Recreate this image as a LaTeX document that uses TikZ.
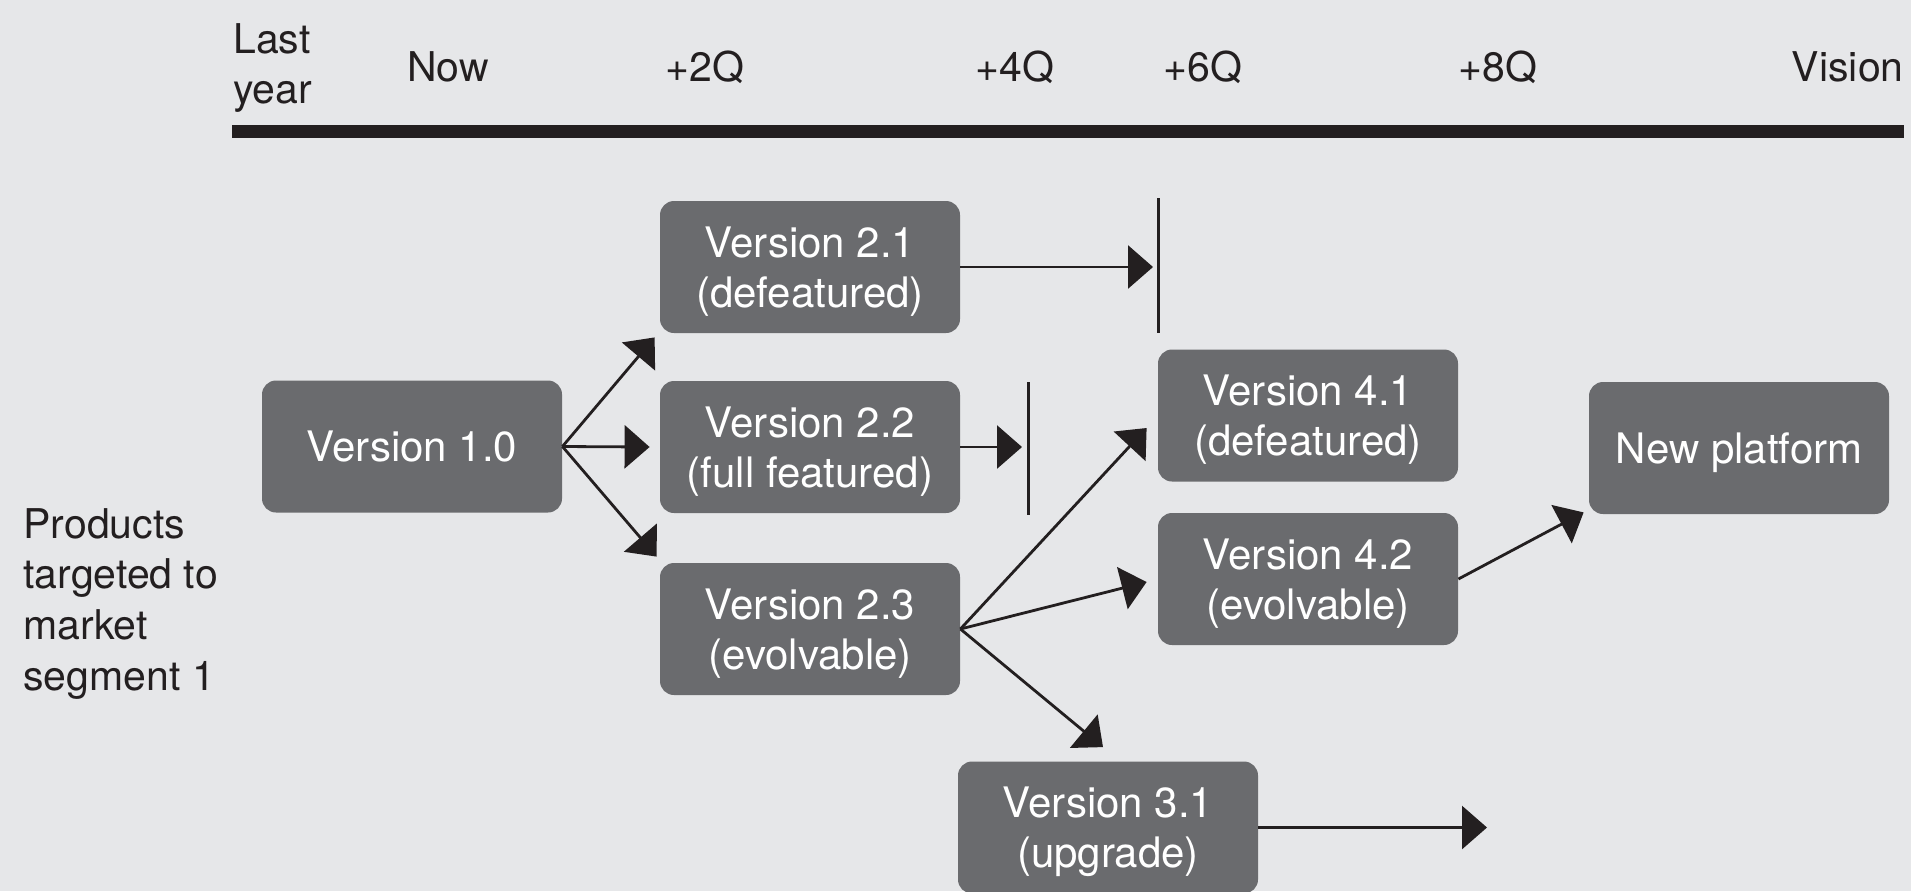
\documentclass[tikz,border=0pt]{standalone}
\usepackage{fontspec}
\setmainfont{TeX Gyre Heros}
\usetikzlibrary{arrows.meta,calc}
\definecolor{bgc}{RGB}{230,231,233}
\definecolor{boxc}{RGB}{106,107,110}
\definecolor{ink}{RGB}{35,31,32}
\begin{document}
\begin{tikzpicture}[x=0.5pt,y=-0.5pt,
  box/.style={fill=boxc, rounded corners=7pt, minimum width=150pt, minimum height=66pt,
    inner sep=0pt, text=white, align=center, font=\fontsize{21}{25}\selectfont, text depth=0pt},
  lbl/.style={text=ink, inner sep=0pt, font=\fontsize{20.5}{25}\selectfont},
  seglbl/.style={text=ink, inner sep=0pt, align=left, font=\fontsize{20.5}{25.3}\selectfont},
  arr/.style={draw=ink, line width=1.4pt, -{Triangle[length=12.5pt,width=21.5pt]}},
  stopbar/.style={draw=ink, line width=1.5pt},
  timebar/.style={draw=ink, line width=6.5pt}]
\useasboundingbox (0,0) rectangle (1911,891);
\fill[bgc] (0,0) rectangle (1911,891);

% timeline header
\node[lbl, anchor=north west, align=left] (last) at (233,23) {Last\\year};
\node[lbl, anchor=base] (now) at (448,81) {Now};
\node[lbl, anchor=base] (q2) at (705,81) {+2Q};
\node[lbl, anchor=base] (q4) at (1015,81) {+4Q};
\node[lbl, anchor=base] (q6) at (1203,81) {+6Q};
\node[lbl, anchor=base] (q8) at (1498,81) {+8Q};
\node[lbl, anchor=base east] (vision) at (1904,81) {Vision};
\coordinate (tl0) at (232,131.5);
\coordinate (tl1) at (1904,131.5);
\draw[timebar] (tl0) -- (tl1);

% side label
\node[seglbl, anchor=north west] (seg) at (23,508) {Products\\targeted to\\market\\segment 1};

% boxes
\node[box] (v10) at (412,446.5) {Version 1.0};
\node[box] (v21) at (810,267) {Version 2.1\\(defeatured)};
\node[box] (v22) at (810,447) {Version 2.2\\(full featured)};
\node[box] (v23) at (810,629) {Version 2.3\\(evolvable)};
\node[box] (v41) at (1308,415.5) {Version 4.1\\(defeatured)};
\node[box] (v42) at (1308,579) {Version 4.2\\(evolvable)};
\node[box] (np) at (1739,448) {New platform};
\node[box] (v31) at (1108,827.5) {Version 3.1\\(upgrade)};

% stop bars
\coordinate (s1a) at (1158,198);
\coordinate (s1b) at (1158,333);
\coordinate (s2a) at (1028,382);
\coordinate (s2b) at (1028,515);
\draw[stopbar] (s1a) -- (s1b);
\draw[stopbar] (s2a) -- (s2b);

% free arrow ends
\coordinate (t1) at (1153,267);
\coordinate (t2) at (1022,447);
\coordinate (t3) at (1487,827.5);

% connectors
\draw[arr] (v10.east) -- ($(v21.south west)+(-5,4)$);
\draw[arr] (v10.east) -- ($(v22.west)+(-10,0)$);
\draw[arr] (v10.east) -- ($(v23.north west)+(-3,-6)$);
\draw[arr] (v21.east) -- (t1);
\draw[arr] (v22.east) -- (t2);
\draw[arr] (v23.east) -- ($(v41.west)+(-11,12.5)$);
\draw[arr] (v23.east) -- ($(v42.west)+(-11,3)$);
\draw[arr] (v23.east) -- ($(v31.north)+(-5,-14)$);
\draw[arr] (v42.east) -- ($(np.south west)+(-5,-2)$);
\draw[arr] (v31.east) -- (t3);
\end{tikzpicture}
\end{document}
